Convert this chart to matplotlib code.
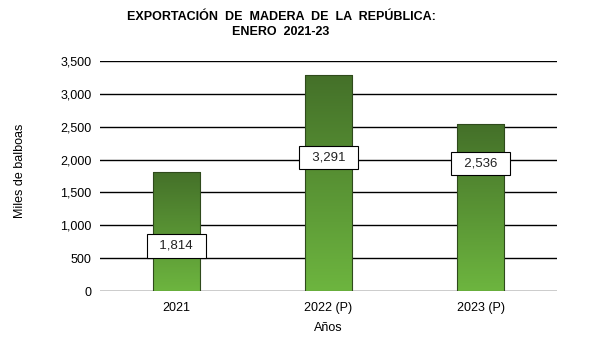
import numpy as np
import matplotlib.pyplot as plt
from matplotlib.colors import LinearSegmentedColormap

plt.rcParams['font.family'] = ['Liberation Sans', 'DejaVu Sans']

# data
categories = ["2021", "2022 (P)", "2023 (P)"]
values = [1814, 3291, 2536]
label_y = [685, 2025, 1935]   # where the value boxes sit
yticks = [0, 500, 1000, 1500, 2000, 2500, 3000, 3500]

fig = plt.figure(figsize=(5.93, 3.63), dpi=100)
ax = fig.add_axes([100 / 593, 1 - 291 / 363, 457 / 593, 230 / 363])

ax.set_xlim(-0.5, 2.5)
ax.set_ylim(0, 3500)

for y in yticks:
    ax.axhline(y, color="black", lw=1.0, zorder=1)

green = LinearSegmentedColormap.from_list("g", ["#6db53f", "#447029"])
grad = np.linspace(0, 1, 256).reshape(-1, 1)
width = 0.31
bars = ax.bar(range(len(values)), values, width=width, color="none",
              edgecolor="#2f4a1c", lw=0.8, zorder=3)
for b in bars:
    x0, h = b.get_x(), b.get_height()
    im = ax.imshow(grad, cmap=green, origin="lower", aspect="auto",
                   extent=[x0, x0 + width, 0, h], zorder=2)
    im.set_clip_path(b)

for i, (v, ly) in enumerate(zip(values, label_y)):
    ax.text(i, ly, f"  {v:,}  ", ha="center", va="center", fontsize=9.5,
            zorder=5, color="#222222",
            bbox=dict(boxstyle="square,pad=0.42", fc="white", ec="black", lw=0.8))

ax.set_xticks(range(len(categories)))
ax.set_xticklabels(categories, fontsize=9)
ax.set_yticks(yticks)
ax.set_yticklabels([f"{t:,}" for t in yticks], fontsize=9)
ax.tick_params(axis="both", length=0, pad=6)
ax.tick_params(axis="x", pad=8)
for s in ax.spines.values():
    s.set_visible(False)

ax.set_xlabel("Años", fontsize=9, labelpad=6)
fig.text(20 / 593, 1 - 171 / 363, "Miles de balboas", rotation=90,
         ha="center", va="center", fontsize=9)

fig.text(281 / 593, 1 - 17 / 363, "EXPORTACIÓN  DE  MADERA  DE  LA  REPÚBLICA:",
         ha="center", va="center", fontsize=9, fontweight="bold")
fig.text(281 / 593, 1 - 32 / 363, "ENERO  2021-23",
         ha="center", va="center", fontsize=9, fontweight="bold")

fig.savefig("out.png", dpi=100)
